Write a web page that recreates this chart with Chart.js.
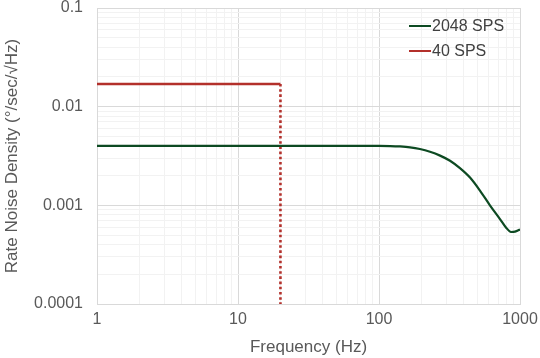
<!DOCTYPE html>
<html>
<head>
<meta charset="utf-8">
<script src="https://cdn.jsdelivr.net/npm/chart.js@4.4.1/dist/chart.umd.min.js"></script>
<style>
  html, body { margin: 0; padding: 0; background: #fff; }
  #wrap { width: 540px; height: 358px; }
</style>
</head>
<body>
<div id="wrap"><canvas id="noiseChart" width="540" height="358"></canvas></div>
<script>
// 2048 SPS curve
const freq2048 = [1, 10, 100, 120, 141, 166, 195, 230, 271, 319, 375, 442, 520, 612, 721, 795, 863, 922, 1000];
const noise2048 = [0.004, 0.004, 0.004, 0.00399, 0.00395, 0.00387, 0.00372, 0.00349, 0.00319, 0.00283, 0.00238, 0.00191, 0.00141, 0.001, 0.000726, 0.000596, 0.000537, 0.000542, 0.000569];

// 40 SPS: flat part, then the dotted cut-off at 20 Hz
const freq40 = [1, 20];
const noise40 = [0.017, 0.017];
const cutoffFreq = [20, 20];
const cutoffNoise = [0.017, 0.0001];

const seriesLabels = ["2048 SPS", "40 SPS"];
const seriesColors = ["#0d4a22", "#b3302b"];

// axis decades + labels
const xDecades = [1, 10, 100, 1000];
const xTickLabels = ["1", "10", "100", "1000"];
const yDecades = [0.0001, 0.001, 0.01, 0.1];
const yTickLabels = ["0.0001", "0.001", "0.01", "0.1"];

const textColor = "#595959";
const fontFamily = "'Liberation Sans', Arial, sans-serif";

// decade + minor (2..9) positions for the grid
function logTicks(decades) {
  const out = [];
  decades.forEach((d, i) => {
    out.push({ value: d });
    if (i < decades.length - 1) {
      for (let m = 2; m <= 9; m++) out.push({ value: +(d * m).toPrecision(6) });
    }
  });
  return out;
}

function isDecade(v, decades) {
  return decades.some((d) => Math.abs(d - v) / d < 1e-6);
}

function labelFor(v, decades, labels) {
  const i = decades.findIndex((d) => Math.abs(d - v) / d < 1e-6);
  return i >= 0 ? labels[i] : "";
}

// legend drawn inside the plot, top right
const insideLegend = {
  id: "insideLegend",
  afterDraw(chart) {
    const ctx = chart.ctx;
    ctx.save();
    ctx.font = "16px " + fontFamily;
    ctx.textBaseline = "middle";
    ctx.textAlign = "left";
    seriesLabels.forEach((lab, i) => {
      const y = 26 + i * 25;
      ctx.strokeStyle = seriesColors[i];
      ctx.lineWidth = 2;
      ctx.beginPath();
      ctx.moveTo(409, y);
      ctx.lineTo(431, y);
      ctx.stroke();
      ctx.fillStyle = "#404040";
      ctx.fillText(lab, 432, y + 1);
    });
    ctx.restore();
  },
};

new Chart(document.getElementById("noiseChart"), {
  type: "line",
  data: {
    datasets: [
      {
        label: seriesLabels[0],
        data: freq2048.map((f, i) => ({ x: f, y: noise2048[i] })),
        borderColor: seriesColors[0],
        borderWidth: 2.2,
        pointRadius: 0,
        cubicInterpolationMode: "monotone",
      },
      {
        label: seriesLabels[1],
        data: freq40.map((f, i) => ({ x: f, y: noise40[i] })),
        borderColor: seriesColors[1],
        borderWidth: 2.5,
        pointRadius: 0,
        tension: 0,
      },
      {
        label: seriesLabels[1] + " cut-off",
        data: cutoffFreq.map((f, i) => ({ x: f, y: cutoffNoise[i] })),
        borderColor: seriesColors[1],
        borderWidth: 2.6,
        borderDash: [2.6, 2.6],
        borderCapStyle: "butt",
        pointRadius: 0,
        tension: 0,
      },
    ],
  },
  options: {
    responsive: false,
    animation: false,
    layout: { padding: { top: 8, right: 20, left: 0, bottom: 0 } },
    plugins: {
      legend: { display: false },
      tooltip: { enabled: false },
    },
    scales: {
      x: {
        type: "logarithmic",
        min: 1,
        max: 1000,
        afterBuildTicks: (scale) => {
          scale.ticks = logTicks(xDecades);
        },
        afterFit: (scale) => {
          scale.height = 54;
          scale.paddingLeft = 0;
          scale.paddingRight = 0;
        },
        ticks: {
          autoSkip: false,
          maxRotation: 0,
          padding: 6,
          color: textColor,
          font: { size: 16, family: fontFamily },
          callback: (v) => labelFor(v, xDecades, xTickLabels),
        },
        grid: {
          drawTicks: false,
          color: (ctx) => (isDecade(ctx.tick.value, xDecades) ? "#d9d9d9" : "#f2f2f2"),
        },
        border: { color: "#d9d9d9" },
        title: {
          display: true,
          text: "Frequency (Hz)",
          color: textColor,
          padding: { top: 2, bottom: 0 },
          font: { size: 17, family: fontFamily },
        },
      },
      y: {
        type: "logarithmic",
        min: 0.0001,
        max: 0.1,
        afterBuildTicks: (scale) => {
          scale.ticks = logTicks(yDecades);
        },
        afterFit: (scale) => {
          scale.width = 97;
          scale.paddingTop = 0;
          scale.paddingBottom = 0;
        },
        ticks: {
          autoSkip: false,
          padding: 14,
          color: textColor,
          font: { size: 16, family: fontFamily },
          callback: (v) => labelFor(v, yDecades, yTickLabels),
        },
        grid: {
          drawTicks: false,
          color: (ctx) => (isDecade(ctx.tick.value, yDecades) ? "#d9d9d9" : "#f2f2f2"),
        },
        border: { color: "#d9d9d9" },
        title: {
          display: true,
          text: "Rate Noise Density (°/sec/√Hz)",
          color: textColor,
          padding: { top: 2, bottom: 0 },
          font: { size: 17, family: fontFamily },
        },
      },
    },
  },
  plugins: [insideLegend],
});
</script>
</body>
</html>
